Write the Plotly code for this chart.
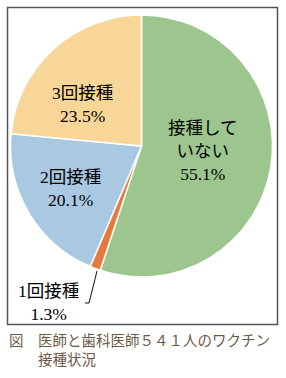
import plotly.graph_objects as go

W, H = 286, 378

labels = ["接種していない", "1回接種", "2回接種", "3回接種"]
values = [55.1, 1.3, 20.1, 23.5]
colors = ["#9CC68D", "#E57A3C", "#A9C9E3", "#F7D697"]
caption1 = "図　医師と歯科医師５４１人のワクチン"
caption2 = "接種状況"

def px(x):
    return x / W

def py(y):
    return 1 - y / H

fig = go.Figure()
fig.add_trace(go.Pie(
    labels=labels, values=values, sort=False, direction="clockwise", rotation=0,
    marker=dict(colors=colors, line=dict(color="white", width=1.5)),
    textinfo="none", hoverinfo="skip", showlegend=False,
    domain=dict(x=[px(10.5), px(272.5)], y=[py(278), py(14)]),
))

lab_font = dict(family="Liberation Serif, Noto Sans CJK JP", size=17.5, color="#000")
label_text = [
    f"接種して<br>いない<br>{values[0]}%",
    f"1回接種<br>{values[1]}%",
    f"2回接種<br>{values[2]}%",
    f"3回接種<br>{values[3]}%",
]
label_pos = [(202, 151), (48, 302.5), (70, 188.5), (82.5, 104)]
for t, (x, y) in zip(label_text, label_pos):
    fig.add_annotation(text=t, x=px(x), y=py(y), xref="paper", yref="paper",
                       xanchor="center", yanchor="middle", showarrow=False,
                       font=lab_font, align="center")

# leader line for small slice
fig.add_shape(type="path",
              path=f"M {px(97)} {py(271)} L {px(89)} {py(303)} L {px(85)} {py(303)}",
              xref="paper", yref="paper", line=dict(color="#111", width=1))

# frame
fig.add_shape(type="rect", x0=px(7.5), x1=px(277.5), y0=py(324.5), y1=py(7.5),
              xref="paper", yref="paper", line=dict(color="#555", width=1.5))

cap_font = dict(family="Liberation Sans, Noto Sans CJK JP", size=14.5, color="#6e5846")
fig.add_annotation(text=caption1 + "<br>　　" + caption2, x=px(7), y=py(350),
                   xref="paper", yref="paper", align="left",
                   xanchor="left", yanchor="middle", showarrow=False, font=cap_font)

fig.update_layout(width=W, height=H, margin=dict(l=0, r=0, t=0, b=0),
                  paper_bgcolor="white", plot_bgcolor="white")
fig.write_html("out.html")
